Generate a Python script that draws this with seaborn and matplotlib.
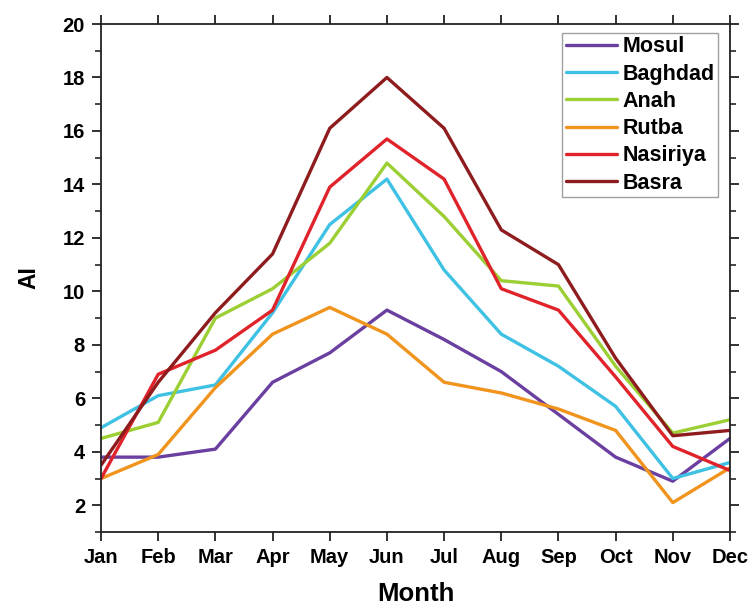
import matplotlib
matplotlib.use("Agg")
import matplotlib.pyplot as plt
import seaborn as sns
import pandas as pd
from matplotlib.ticker import MultipleLocator

months = ["Jan", "Feb", "Mar", "Apr", "May", "Jun", "Jul", "Aug", "Sep", "Oct", "Nov", "Dec"]
mosul = [3.8, 3.8, 4.1, 6.6, 7.7, 9.3, 8.2, 7.0, 5.4, 3.8, 2.9, 4.5]
baghdad = [4.9, 6.1, 6.5, 9.2, 12.5, 14.2, 10.8, 8.4, 7.2, 5.7, 3.0, 3.6]
anah = [4.5, 5.1, 9.0, 10.1, 11.8, 14.8, 12.8, 10.4, 10.2, 7.2, 4.7, 5.2]
rutba = [3.0, 3.9, 6.4, 8.4, 9.4, 8.4, 6.6, 6.2, 5.6, 4.8, 2.1, 3.4]
nasiriya = [3.0, 6.9, 7.8, 9.3, 13.9, 15.7, 14.2, 10.1, 9.3, 6.8, 4.2, 3.3]
basra = [3.5, 6.6, 9.2, 11.4, 16.1, 18.0, 16.1, 12.3, 11.0, 7.5, 4.6, 4.8]

stations = ["Mosul", "Baghdad", "Anah", "Rutba", "Nasiriya", "Basra"]
series = [mosul, baghdad, anah, rutba, nasiriya, basra]
colors = ["#6A3FA0", "#3EC1E3", "#9BCF34", "#F0941E", "#E0232B", "#8E1C1E"]

rows = []
for name, vals in zip(stations, series):
    for i, v in enumerate(vals):
        rows.append({"Month": i, "AI": v, "Station": name})
df = pd.DataFrame(rows)

sns.set_style("ticks")
plt.rcParams["font.family"] = ["Liberation Sans", "DejaVu Sans"]
plt.rcParams["font.weight"] = "bold"

fig = plt.figure(figsize=(7.49, 6.08), dpi=100)
ax = fig.add_axes([0.1349, 0.125, 0.8397, 0.8355])

sns.lineplot(data=df, x="Month", y="AI", hue="Station", hue_order=stations,
             palette=dict(zip(stations, colors)), linewidth=2.4, ax=ax, legend=True)

ax.set_xlim(0, 11)
ax.set_ylim(1, 20)
ax.set_xticks(range(12))
ax.set_xticklabels(months)
ax.yaxis.set_major_locator(MultipleLocator(2))
ax.yaxis.set_minor_locator(MultipleLocator(1))
ax.set_yticks([2, 4, 6, 8, 10, 12, 14, 16, 18, 20])

for s in ax.spines.values():
    s.set_visible(True)
    s.set_linewidth(1.3)
    s.set_color("#222222")

ax.tick_params(axis="both", which="major", direction="out", length=6.5, width=1.3,
               labelsize=14.5, colors="#222222", labelcolor="black", pad=5,
               top=True, right=True, labeltop=False, labelright=False)
ax.tick_params(axis="y", which="minor", direction="out", length=4, width=1.2,
               left=True, right=True)
for lab in ax.get_xticklabels() + ax.get_yticklabels():
    lab.set_fontweight("bold")

ax.set_xlabel("Month", fontsize=18.5, fontweight="bold", labelpad=11, color="black")
ax.set_ylabel("AI", fontsize=16.5, fontweight="bold", labelpad=16, color="black")

leg = ax.legend(loc="upper right", bbox_to_anchor=(0.981, 0.982), borderaxespad=0,
                frameon=True, fancybox=False, edgecolor="#888888", handlelength=2.4,
                handletextpad=0.25, labelspacing=0.29, borderpad=0.15,
                prop={"weight": "bold", "size": 15.5})
leg.get_frame().set_linewidth(1.0)
for line in leg.get_lines():
    line.set_linewidth(2.4)
for t in leg.get_texts():
    t.set_color("black")

fig.savefig("out.png", dpi=100)
